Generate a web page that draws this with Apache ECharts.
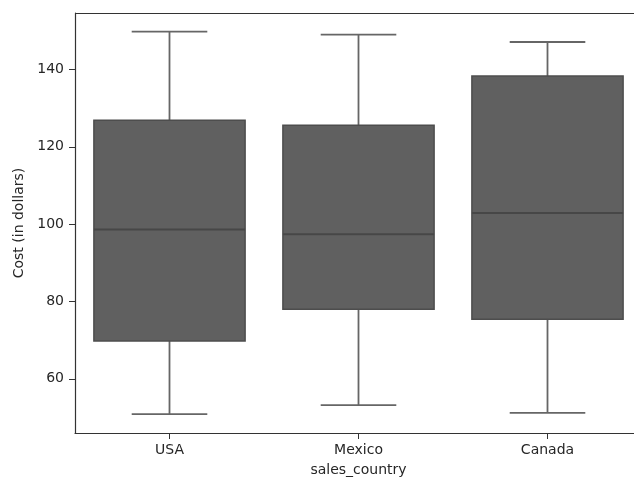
<!DOCTYPE html>
<html>
<head>
<meta charset="utf-8">
<style>
  html, body { margin: 0; padding: 0; background: #fff; overflow: hidden; }
  #chart { width: 642px; height: 482px; }
</style>
<script src="https://cdn.jsdelivr.net/npm/echarts@6/dist/echarts.min.js"></script>
</head>
<body>
<div id="chart"></div>
<script>
// Cost distribution per sales country
const categories = ['USA', 'Mexico', 'Canada'];
const whiskerLow = [50.9, 53.2, 51.2];
const quartile1 = [69.8, 78.0, 75.4];
const medians = [98.6, 97.4, 102.9];
const quartile3 = [126.9, 125.6, 138.3];
const whiskerHigh = [149.8, 149.0, 147.1];
const yTicks = [60, 80, 100, 120, 140];

const boxData = categories.map((c, i) => [i, whiskerLow[i], quartile1[i], medians[i], quartile3[i], whiskerHigh[i]]);

const chart = echarts.init(document.getElementById('chart'));
const textColor = '#262626';
const font = 'DejaVu Sans';

chart.setOption({
  animation: false,
  grid: { left: 75, right: 0, top: 13, bottom: 49, show: false },
  xAxis: {
    type: 'category',
    data: categories,
    boundaryGap: true,
    name: 'sales_country',
    nameLocation: 'middle',
    nameGap: 30,
    nameTextStyle: { color: textColor, fontSize: 14, fontFamily: font },
    axisLine: { show: true, lineStyle: { color: '#333', width: 1.2 } },
    axisTick: { show: true, alignWithLabel: true, length: 6, lineStyle: { color: '#333' } },
    axisLabel: { color: textColor, fontSize: 14, fontFamily: font, margin: 10 },
    splitLine: { show: false }
  },
  yAxis: {
    type: 'value',
    min: 46,
    max: 154.6,
    name: 'Cost (in dollars)',
    nameLocation: 'middle',
    nameGap: 48,
    nameTextStyle: { color: textColor, fontSize: 14, fontFamily: font },
    axisLine: { show: true, lineStyle: { color: '#333', width: 1.2 } },
    axisTick: { show: true, length: 6, customValues: yTicks, lineStyle: { color: '#333' } },
    axisLabel: { color: textColor, fontSize: 14, fontFamily: font, margin: 11, customValues: yTicks },
    splitLine: { show: false }
  },
  series: [
    {
      // top frame line
      type: 'line',
      data: [],
      markLine: {
        silent: true,
        symbol: 'none',
        label: { show: false },
        lineStyle: { color: '#333', width: 1.2, type: 'solid' },
        data: [{ yAxis: 154.6 }]
      }
    },
    {
      type: 'custom',
      data: boxData,
      encode: { x: 0, y: [1, 2, 3, 4, 5] },
      renderItem: function (params, api) {
        const xi = api.value(0);
        const pLow = api.coord([xi, api.value(1)]);
        const pQ1 = api.coord([xi, api.value(2)]);
        const pMed = api.coord([xi, api.value(3)]);
        const pQ3 = api.coord([xi, api.value(4)]);
        const pHigh = api.coord([xi, api.value(5)]);
        const band = api.size([1, 0])[0];
        const bw = band * 0.8;
        const cw = bw * 0.5;
        const cx = pMed[0];
        const whisker = { stroke: '#666666', lineWidth: 1.8 };
        return {
          type: 'group',
          children: [
            { type: 'line', shape: { x1: cx, y1: pQ3[1], x2: cx, y2: pHigh[1] }, style: whisker },
            { type: 'line', shape: { x1: cx, y1: pQ1[1], x2: cx, y2: pLow[1] }, style: whisker },
            { type: 'line', shape: { x1: cx - cw / 2, y1: pHigh[1], x2: cx + cw / 2, y2: pHigh[1] }, style: whisker },
            { type: 'line', shape: { x1: cx - cw / 2, y1: pLow[1], x2: cx + cw / 2, y2: pLow[1] }, style: whisker },
            {
              type: 'rect',
              shape: { x: cx - bw / 2, y: pQ3[1], width: bw, height: pQ1[1] - pQ3[1] },
              style: { fill: '#606060', stroke: '#4d4d4d', lineWidth: 1.5 }
            },
            { type: 'line', shape: { x1: cx - bw / 2, y1: pMed[1], x2: cx + bw / 2, y2: pMed[1] }, style: { stroke: '#474747', lineWidth: 2 } }
          ]
        };
      }
    }
  ]
});
</script>
</body>
</html>
